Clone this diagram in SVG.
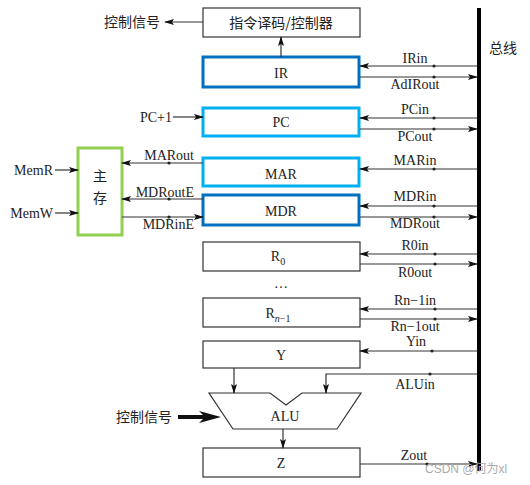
<svg xmlns="http://www.w3.org/2000/svg" width="530" height="485" viewBox="0 0 530 485">
<defs>
<marker id="ah" markerWidth="10" markerHeight="6" refX="9" refY="3" orient="auto" markerUnits="userSpaceOnUse">
<path d="M0,0 L10,3 L0,6 L2,3 Z" fill="#111"/>
</marker>
</defs>
<style>
.box{fill:#fff;stroke:#333;stroke-width:1.2}
.dk{fill:#fff;stroke:#0070c0;stroke-width:3}
.lt{fill:#fff;stroke:#00b0f0;stroke-width:3}
.gr{fill:#fff;stroke:#92d050;stroke-width:3}
.ln{fill:none;stroke:#333;stroke-width:1.2;marker-end:url(#ah)}
.pl{fill:none;stroke:#333;stroke-width:1.2}
.t{font-family:"Liberation Serif",serif;font-size:14px;fill:#222}
.c{font-family:"Noto Sans CJK SC",sans-serif;font-size:14px;fill:#222}
.m{text-anchor:middle}
.e{text-anchor:end}
.d{fill:#222}
</style>
<rect x="0" y="0" width="530" height="485" fill="#fff"/>

<g id="bus">
<rect x="477" y="8" width="4" height="463" fill="#000"/>
<text class="c" x="489" y="53" font-size="13">总线</text>
</g>

<g id="ctrl">
<rect class="box" x="203" y="8" width="157" height="29"/>
<text class="c m" x="281" y="28" font-size="15">指令译码/控制器</text>
</g>
<g id="ctrlsig"><text class="c" x="104" y="27">控制信号</text></g>

<g id="IR"><rect class="dk" x="203" y="57" width="156" height="30"/><text class="t m" x="281" y="78">IR</text></g>
<g id="PC"><rect class="lt" x="203" y="108" width="156" height="28"/><text class="t m" x="281" y="127">PC</text></g>
<g id="MAR"><rect class="lt" x="203" y="158" width="156" height="28"/><text class="t m" x="281" y="179">MAR</text></g>
<g id="MDR"><rect class="dk" x="203" y="195" width="156" height="30"/><text class="t m" x="281" y="216">MDR</text></g>
<g id="R0"><rect class="box" x="203" y="242" width="157" height="29"/><text class="t m" x="278" y="261">R<tspan font-size="10" dy="4">0</tspan></text></g>
<g id="dots"><text class="t m" x="281" y="288">…</text></g>
<g id="Rn1"><rect class="box" x="203" y="298" width="157" height="29"/><text class="t m" x="278" y="318">R<tspan font-size="10" dy="4" font-style="italic">n</tspan><tspan font-size="10">−1</tspan></text></g>
<g id="Y"><rect class="box" x="203" y="341" width="157" height="27"/><text class="t m" x="281" y="360">Y</text></g>
<g id="ALU"><path class="box" d="M209,393 L270,393 L286,405 L302,393 L361,393 L337,429 L233,429 Z"/><text class="t m" x="285" y="421">ALU</text></g>
<g id="Z"><rect class="box" x="203" y="448" width="157" height="29"/><text class="t m" x="281" y="468">Z</text></g>
<g id="mem"><rect class="gr" x="78" y="148" width="44" height="87"/><text class="c m" x="100" y="181" font-size="15">主</text><text class="c m" x="100" y="203" font-size="15">存</text></g>

<g id="connectors">
<line class="ln" x1="203" y1="22" x2="165" y2="22"/>
<line class="ln" x1="281" y1="57" x2="281" y2="37"/>

<line class="ln" x1="477" y1="66" x2="360" y2="66"/>
<line class="ln" x1="360" y1="77" x2="477" y2="77"/>
<line class="ln" x1="477" y1="118" x2="360" y2="118"/>
<line class="ln" x1="360" y1="129" x2="477" y2="129"/>
<line class="ln" x1="477" y1="169" x2="360" y2="169"/>
<line class="ln" x1="477" y1="206" x2="360" y2="206"/>
<line class="ln" x1="360" y1="217" x2="477" y2="217"/>
<line class="ln" x1="477" y1="254" x2="360" y2="254"/>
<line class="ln" x1="360" y1="264" x2="477" y2="264"/>
<line class="ln" x1="477" y1="309" x2="360" y2="309"/>
<line class="ln" x1="360" y1="319" x2="477" y2="319"/>
<line class="ln" x1="477" y1="351" x2="360" y2="351"/>
<path class="ln" d="M477,374 L326,374 L326,393"/>
<line class="ln" x1="234" y1="368" x2="234" y2="393"/>
<line class="ln" x1="283" y1="429" x2="283" y2="448"/>
<line class="ln" x1="360" y1="464" x2="477" y2="464"/>

<line class="ln" x1="173" y1="117" x2="203" y2="117"/>
<line class="ln" x1="203" y1="163" x2="122" y2="163"/>
<line class="ln" x1="203" y1="199" x2="122" y2="199"/>
<line class="ln" x1="122" y1="217" x2="203" y2="217"/>
<line class="ln" x1="55" y1="170" x2="78" y2="170"/>
<line class="ln" x1="55" y1="213" x2="78" y2="213"/>

<path d="M178,415 L203,415 L199,411 L221,417 L199,423 L203,419 L178,419 Z" fill="#111"/>

<g class="d">
<circle cx="434" cy="66" r="1.6"/><circle cx="434" cy="77" r="1.6"/>
<circle cx="434" cy="118" r="1.6"/><circle cx="434" cy="129" r="1.6"/>
<circle cx="434" cy="169" r="1.6"/>
<circle cx="434" cy="206" r="1.6"/><circle cx="434" cy="217" r="1.6"/>
<circle cx="435" cy="254" r="1.6"/><circle cx="435" cy="264" r="1.6"/>
<circle cx="435" cy="309" r="1.6"/><circle cx="435" cy="319" r="1.6"/>
<circle cx="432" cy="351" r="1.6"/>
<circle cx="430" cy="374" r="1.6"/>
<circle cx="427" cy="464" r="1.6"/>
<circle cx="169" cy="163" r="1.6"/><circle cx="169" cy="199" r="1.6"/><circle cx="169" cy="217" r="1.6"/>
</g>
</g>

<g id="labels">
<text class="t m" x="415" y="63">IRin</text>
<text class="t m" x="415" y="89">AdIRout</text>
<text class="t m" x="415" y="114">PCin</text>
<text class="t m" x="415" y="141">PCout</text>
<text class="t m" x="415" y="165">MARin</text>
<text class="t m" x="415" y="201">MDRin</text>
<text class="t m" x="415" y="228">MDRout</text>
<text class="t m" x="415" y="250">R0in</text>
<text class="t m" x="415" y="277">R0out</text>
<text class="t m" x="415" y="305">Rn−1in</text>
<text class="t m" x="415" y="331">Rn−1out</text>
<text class="t m" x="416" y="346">Yin</text>
<text class="t m" x="415" y="389">ALUin</text>
<text class="t m" x="414" y="460">Zout</text>
<text class="t e" x="172" y="122">PC+1</text>
<text class="t e" x="194" y="160">MARout</text>
<text class="t e" x="194" y="197">MDRoutE</text>
<text class="t e" x="194" y="229">MDRinE</text>
<text class="t e" x="53" y="175">MemR</text>
<text class="t e" x="53" y="218">MemW</text>
<text class="c" x="116" y="422">控制信号</text>
</g>
<text x="425" y="473" font-family="'Liberation Sans','Noto Sans CJK SC',sans-serif" font-size="12" fill="#aaa">CSDN @何为xl</text>
</svg>
